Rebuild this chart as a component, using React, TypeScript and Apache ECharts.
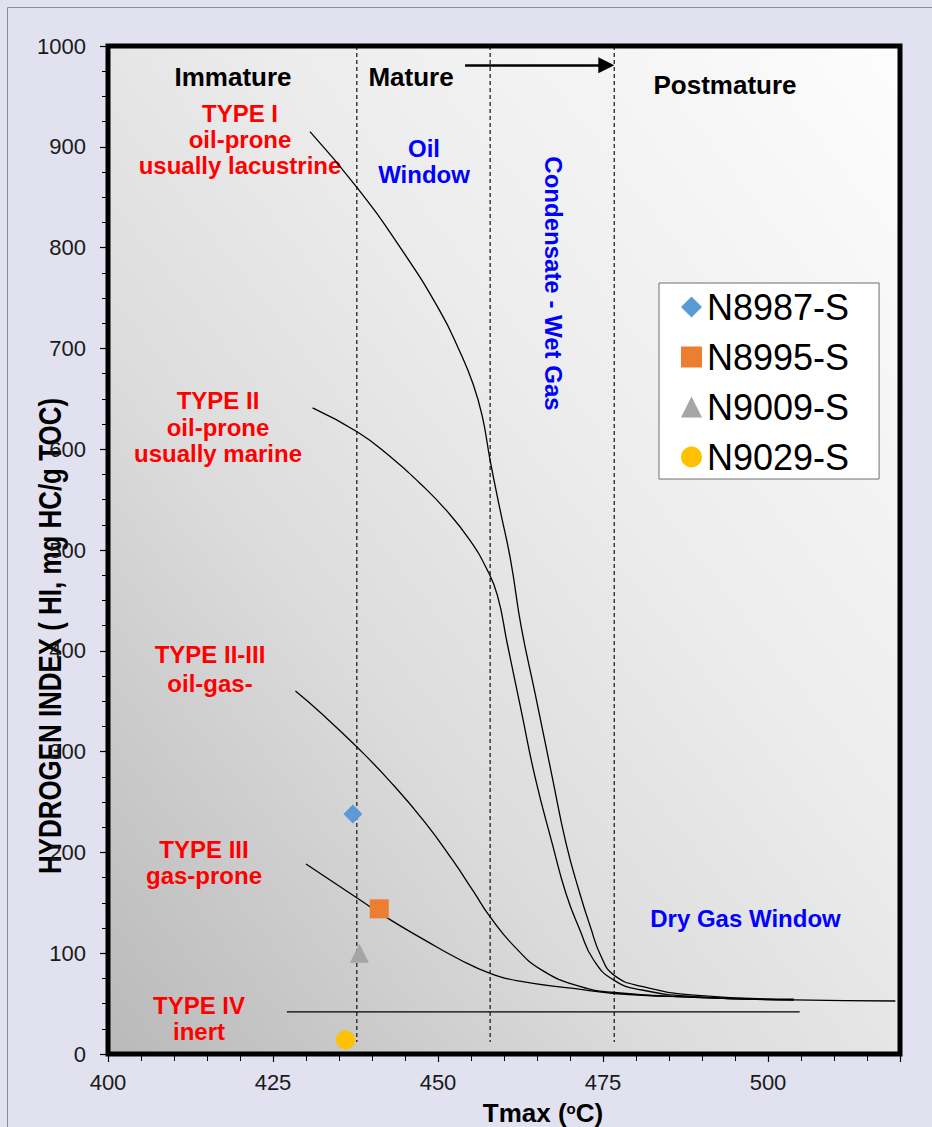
import React, { useEffect, useRef } from "react";
import * as echarts from "echarts";

// Axis ranges
const xMin = 400;
const xMax = 520;
const xStep = 25;
const yMin = 0;
const yMax = 1000;
const yStep = 100;

// Kerogen type evolution paths (Tmax °C, HI mg HC/g TOC)
const typeI: number[][] = [
  [430.6, 915], [437.8, 859], [444.5, 798], [450.3, 737], [453.3, 697],
  [455.3, 665], [456.7, 633], [457.9, 589], [459.4, 540], [461.0, 490], [462.6, 424],
  [464.7, 358], [467.3, 275], [469.4, 209], [471.5, 159], [473.1, 126], [474.7, 97],
  [476.7, 78], [480.9, 67], [488.8, 58.5], [503.9, 54.3],
];
const typeII: number[][] = [
  [431.0, 641], [437.8, 617], [442.7, 593], [447.3, 566], [451.3, 539], [454.8, 510],
  [457.4, 481], [459.0, 455], [460.5, 407], [462.6, 341], [464.7, 275], [467.3, 209],
  [469.4, 159], [471.5, 123], [473.6, 93], [476.7, 73], [480.9, 63.5], [488.8, 57],
  [503.9, 53.6],
];
const typeIIIII: number[][] = [
  [428.4, 360], [432.3, 338], [437.8, 304], [442.8, 270], [448.0, 230], [452.2, 192.5],
  [455.3, 162], [457.9, 136], [461.6, 106.5], [465.8, 83], [471.5, 67], [476.7, 61],
  [488.8, 56.3], [503.9, 53.6],
];
const typeIII: number[][] = [
  [430.0, 188.5], [437.8, 154.5], [442.3, 135], [448.0, 113], [453.2, 94], [457.9, 80],
  [462.6, 72], [470.5, 65], [476.7, 60], [488.8, 56.3], [503.9, 53.6], [519.3, 52.6],
];
const typeIV: number[][] = [[427.1, 41.7], [504.8, 41.7]];

// Maturity zone boundaries (Tmax)
const zoneBounds = [437.7, 457.9, 476.7];
const zoneLineTop = 1000;
const zoneLineBottom = 12;

// "Mature" arrow (start, end, HI level)
const arrowFrom = 454.1;
const arrowTo = 475.5;
const arrowLevel = 981;

// Samples
const sampleNames = ["N8987-S", "N8995-S", "N9009-S", "N9029-S"];
const sampleSymbols = ["diamond", "rect", "triangle", "circle"];
const sampleColors = ["#5B9BD5", "#ED7D31", "#A5A5A5", "#FFC000"];
const n8987: number[] = [437.1, 238];
const n8995: number[] = [441.1, 144];
const n9009: number[] = [438.1, 100];
const n9029: number[] = [436.0, 14];
const sampleValues = [n8987, n8995, n9009, n9029];

const FONT = "'Liberation Sans', Arial, Helvetica, sans-serif";

function textEl(text: string, x: number, y: number, font: string, fill: string, extra: any = {}) {
  const { lineHeight, ...rest } = extra;
  return {
    type: "text",
    x,
    y,
    silent: true,
    ...rest,
    style: {
      text,
      font,
      fill,
      lineHeight,
      align: "center",
      verticalAlign: "middle",
      textAlign: "center",
      textVerticalAlign: "middle",
    },
  };
}

export default function App() {
  const ref = useRef<HTMLDivElement>(null);

  useEffect(() => {
    if (!ref.current) return;
    const chart = echarts.init(ref.current, null, { renderer: "svg" });

    const curveStyle = { color: "#000", width: 1.3 };
    const curve = (data: number[][]) => ({
      type: "line",
      data,
      showSymbol: false,
      symbol: "none",
      smooth: 0.5,
      lineStyle: curveStyle,
      silent: true,
      z: 3,
    });

    const zoneSeries = zoneBounds.map((x) => ({
      type: "line",
      data: [
        [x, zoneLineTop],
        [x, zoneLineBottom],
      ],
      symbol: "none",
      lineStyle: { color: "#111", width: 1.2, type: [4, 3] },
      silent: true,
      z: 2,
    }));

    const sampleSeries = sampleNames.map((name, i) => ({
      type: "scatter",
      name,
      data: [sampleValues[i]],
      symbol: sampleSymbols[i],
      symbolSize: 19,
      itemStyle: { color: sampleColors[i], opacity: 1 },
      z: 5,
    }));

    const redFont = `bold 24px ${FONT}`;
    const blueFont = `bold 24px ${FONT}`;
    const blackFont = `bold 26px ${FONT}`;

    const option: any = {
      animation: false,
      backgroundColor: "#E1E1EF",
      grid: {
        left: 108,
        right: 32,
        top: 46,
        bottom: 73,
        show: true,
        borderColor: "#000",
        borderWidth: 5,
        backgroundColor: {
          type: "linear",
          x: 0,
          y: 1,
          x2: 1,
          y2: 0,
          colorStops: [
            { offset: 0, color: "#b9b9b9" },
            { offset: 0.35, color: "#dcdcdc" },
            { offset: 0.6, color: "#ececec" },
            { offset: 1, color: "#fdfdfd" },
          ],
        },
      },
      xAxis: {
        type: "value",
        min: xMin,
        max: xMax,
        interval: xStep,
        axisLine: { show: false },
        axisTick: { show: true, length: 8, lineStyle: { color: "#000", width: 1.2 } },
        minorTick: { show: true, splitNumber: 5, length: 7, lineStyle: { color: "#000", width: 1 } },
        splitLine: { show: false },
        axisLabel: {
          fontSize: 22,
          fontFamily: FONT,
          color: "#1a1a1a",
          margin: 17,
          formatter: (v: number) => (v > 500 ? "" : String(v)),
        },
      },
      yAxis: {
        type: "value",
        min: yMin,
        max: yMax,
        interval: yStep,
        axisLine: { show: false },
        axisTick: { show: true, length: 8, lineStyle: { color: "#000", width: 1.2 } },
        minorTick: { show: true, splitNumber: 4, length: 6, lineStyle: { color: "#000", width: 1 } },
        splitLine: { show: false },
        axisLabel: {
          fontSize: 22,
          fontFamily: FONT,
          color: "#1a1a1a",
          margin: 22,
          formatter: (v: number) => String(v),
        },
      },
      legend: {
        data: sampleNames,
        orient: "vertical",
        left: 659,
        top: 283,
        padding: [6, 30, 4, 22],
        itemWidth: 21,
        itemHeight: 21,
        itemGap: 14,
        backgroundColor: "#ffffff",
        borderColor: "#6e6e6e",
        borderWidth: 1,
        textStyle: { fontSize: 36, lineHeight: 36, fontFamily: FONT, color: "#000" },
      },
      series: [
        ...zoneSeries,
        curve(typeI),
        curve(typeII),
        curve(typeIIIII),
        curve(typeIII),
        {
          type: "line",
          data: typeIV,
          symbol: "none",
          lineStyle: curveStyle,
          silent: true,
          z: 3,
        },
        {
          type: "line",
          data: [],
          silent: true,
          markLine: {
            silent: true,
            symbol: ["none", "triangle"],
            symbolSize: 16,
            label: { show: false },
            itemStyle: { color: "#000" },
            lineStyle: { color: "#000", width: 2.5, type: "solid" },
            data: [
              [
                { coord: [arrowFrom, arrowLevel] },
                { coord: [arrowTo, arrowLevel] },
              ],
            ],
          },
        },
        ...sampleSeries,
      ],
      graphic: [
        {
          type: "rect",
          silent: true,
          shape: { x: 7.5, y: 7.5, width: 1000, height: 1200 },
          style: { fill: "none", stroke: "#8c8c8c", lineWidth: 1 },
        },
        // maturity zones
        textEl("Immature", 233, 77, blackFont, "#000"),
        textEl("Mature", 411, 77, blackFont, "#000"),
        textEl("Postmature", 725, 85, blackFont, "#000"),
        // kerogen types
        textEl("TYPE I\noil-prone\nusually lacustrine", 240, 139, redFont, "#FF0000", { lineHeight: 26 }),
        textEl("TYPE II\noil-prone\nusually marine", 218, 427, redFont, "#FF0000", { lineHeight: 26.5 }),
        textEl("TYPE II-III\noil-gas-", 210, 668.5, redFont, "#FF0000", { lineHeight: 29 }),
        textEl("TYPE III\ngas-prone", 204, 862.5, redFont, "#FF0000", { lineHeight: 26 }),
        textEl("TYPE IV\ninert", 199, 1018, redFont, "#FF0000", { lineHeight: 26 }),
        // hydrocarbon windows
        textEl("Oil\nWindow", 424, 161, blueFont, "#0000FF", { lineHeight: 26 }),
        textEl("Condensate - Wet Gas", 553, 283.5, blueFont, "#0000FF", { rotation: -Math.PI / 2 }),
        textEl("Dry Gas Window", 745.5, 918, blueFont, "#0000FF"),
        // axis titles
        textEl("HYDROGEN INDEX ( HI, mg HC/g TOC)", 50, 636, `bold 32px ${FONT}`, "#000", {
          rotation: Math.PI / 2,
          scaleX: 0.81,
        }),
        {
          type: "text",
          x: 543,
          y: 1113,
          silent: true,
          style: {
            text: "{t|Tmax (}{s|o}{t|C)}",
            align: "center",
            verticalAlign: "middle",
            textAlign: "center",
            textVerticalAlign: "middle",
            rich: {
              t: { font: `bold 26px ${FONT}`, fill: "#000", color: "#000" },
              s: { font: `bold 15px ${FONT}`, fill: "#000", color: "#000", padding: [0, 0, 10, 0] },
            },
          },
        },
      ],
    };

    chart.setOption(option);
    return () => chart.dispose();
  }, []);

  return (
    <div
      ref={ref}
      style={{ position: "absolute", left: 0, top: 0, width: 932, height: 1127 }}
    />
  );
}
